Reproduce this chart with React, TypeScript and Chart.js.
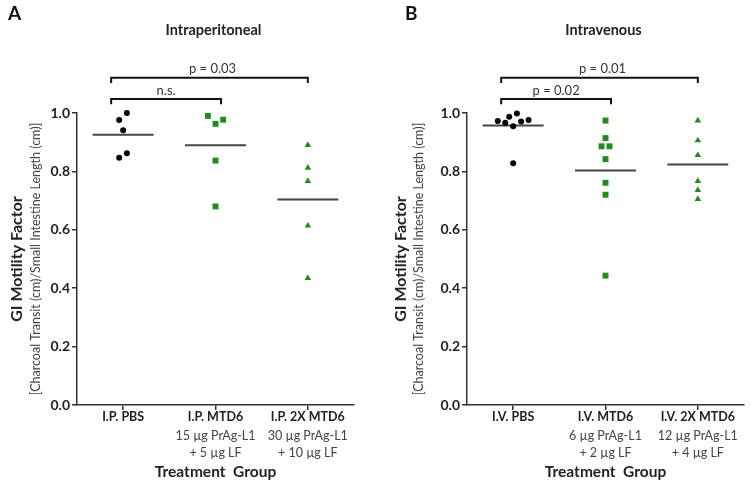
import React, { useEffect, useRef } from 'react';
import Chart from 'chart.js/auto';

const FONT = 'Lato, "Open Sans", sans-serif';

// ---- Data ----
const categoriesA = ['I.P. PBS', 'I.P. MTD6', 'I.P. 2X MTD6'];
const doseLinesA = [[], ['15 µg PrAg-L1', '+ 5 µg LF'], ['30 µg PrAg-L1', '+ 10 µg LF']];
const categoriesB = ['I.V. PBS', 'I.V. MTD6', 'I.V. 2X MTD6'];
const doseLinesB = [[], ['6 µg PrAg-L1', '+ 2 µg LF'], ['12 µg PrAg-L1', '+ 4 µg LF']];

// Intraperitoneal
const ipPBS = [1.0, 0.976, 0.941, 0.862, 0.847];
const ipPBSJitter = [0.04, -0.043, 0, 0.04, -0.043];
const ipMTD6 = [0.99, 0.977, 0.963, 0.837, 0.68];
const ipMTD6Jitter = [-0.083, 0.083, 0, 0, 0];
const ip2xMTD6 = [0.89, 0.812, 0.767, 0.614, 0.435];
const ip2xMTD6Jitter = [0, 0, 0, 0, 0];

// Intravenous
const ivPBS = [0.998, 0.987, 0.976, 0.973, 0.971, 0.967, 0.955, 0.828];
const ivPBSJitter = [0.04, -0.043, 0.167, -0.166, 0.086, -0.086, 0, 0];
const ivMTD6 = [0.974, 0.914, 0.886, 0.886, 0.842, 0.761, 0.72, 0.443];
const ivMTD6Jitter = [0, 0, -0.043, 0.043, 0, 0, 0, 0];
const iv2xMTD6 = [0.974, 0.906, 0.856, 0.767, 0.736, 0.705];
const iv2xMTD6Jitter = [0, 0, 0, 0, 0, 0];

const yTicks = [0, 0.2, 0.4, 0.6, 0.8, 1.0];

const bracketsA = [
  { from: 0, to: 1, label: 'n.s.' },
  { from: 0, to: 2, label: 'p = 0.03' },
];
const bracketsB = [
  { from: 0, to: 1, label: 'p = 0.02' },
  { from: 0, to: 2, label: 'p = 0.01' },
];

const BLACK = '#000000';
const GREEN = '#1e8c1e';

type Group = { values: number[]; jitter: number[]; style: string; color: string; radius: number };
type Bracket = { from: number; to: number; label: string };

type PanelProps = {
  left: number;
  width: number;
  letter: string;
  letterX: number;
  title: string;
  categories: string[];
  doseLines: string[][];
  groups: Group[];
  brackets: Bracket[];
  yTitleX: number;
  ySubTitleX: number;
};

function Panel(props: PanelProps) {
  const ref = useRef<HTMLCanvasElement>(null);
  useEffect(() => {
    const p = props;
    const datasets: any[] = [];
    p.groups.forEach((g, i) => {
      const mean = g.values.reduce((a, b) => a + b, 0) / g.values.length;
      datasets.push({
        type: 'line',
        data: [
          { x: i - 0.33, y: mean },
          { x: i + 0.33, y: mean },
        ],
        borderColor: '#444444',
        borderWidth: 2,
        pointRadius: 0,
        fill: false,
        clip: false,
        order: 2,
      });
      datasets.push({
        type: 'scatter',
        data: g.values.map((v, k) => ({ x: i + g.jitter[k], y: v })),
        pointStyle: g.style,
        pointRadius: g.radius,
        backgroundColor: g.color,
        borderColor: g.color,
        borderWidth: 0,
        clip: false,
        order: 1,
      });
    });

    const annot = {
      id: 'annot',
      afterDraw(chart: any) {
        const { ctx, chartArea } = chart;
        const x = chart.scales.x;
        const y = chart.scales.y;
        ctx.save();
        // Panel letter
        ctx.fillStyle = '#111111';
        ctx.font = `bold 19px ${FONT}`;
        ctx.textAlign = 'left';
        ctx.textBaseline = 'middle';
        ctx.fillText(p.letter, p.letterX, 14);
        // Title
        ctx.font = `bold 14.5px ${FONT}`;
        ctx.textAlign = 'center';
        ctx.fillStyle = '#222222';
        ctx.fillText(p.title, x.getPixelForValue(1) - 2, 30);

        // Y titles
        const cy = (chartArea.top + chartArea.bottom) / 2;
        ctx.save();
        ctx.translate(p.yTitleX, cy);
        ctx.rotate(-Math.PI / 2);
        ctx.font = `bold 16px ${FONT}`;
        ctx.fillStyle = '#222222';
        ctx.textBaseline = 'middle';
        ctx.fillText('GI Motility Factor', 0, 0);
        ctx.restore();
        ctx.save();
        ctx.translate(p.ySubTitleX, cy);
        ctx.rotate(-Math.PI / 2);
        ctx.font = `12.5px ${FONT}`;
        ctx.fillStyle = '#444444';
        ctx.textBaseline = 'middle';
        ctx.fillText('[Charcoal Transit (cm)/Small Intestine Length (cm)]', 0, 0);
        ctx.restore();

        // X category labels
        const base = chartArea.bottom;
        p.categories.forEach((c, i) => {
          const px = x.getPixelForValue(i);
          ctx.font = `bold 12.5px ${FONT}`;
          ctx.fillStyle = '#222222';
          ctx.textBaseline = 'middle';
          ctx.fillText(c, px, base + 12);
          ctx.font = `12.5px ${FONT}`;
          ctx.fillStyle = '#444444';
          p.doseLines[i].forEach((l, k) => {
            ctx.fillText(l, px, base + 30.5 + k * 17.5);
          });
        });
        ctx.font = `bold 15.5px ${FONT}`;
        ctx.fillStyle = '#222222';
        ctx.fillText('Treatment  Group', x.getPixelForValue(1), base + 67);

        // Significance brackets
        ctx.strokeStyle = '#111111';
        ctx.lineWidth = 2;
        p.brackets.forEach((b) => {
          const outer = b.to === 2;
          const level = outer ? 1.121 : 1.048;
          const leg = 0.018;
          const x0 = x.getPixelForValue(b.from - 0.13);
          const x1 = x.getPixelForValue(outer ? b.to : b.to + 0.06);
          const yy = y.getPixelForValue(level);
          const yl = y.getPixelForValue(level - leg);
          ctx.beginPath();
          ctx.moveTo(x0, yl);
          ctx.lineTo(x0, yy);
          ctx.lineTo(x1, yy);
          ctx.lineTo(x1, yl);
          ctx.stroke();
          ctx.font = `13px ${FONT}`;
          ctx.fillStyle = '#333333';
          ctx.textAlign = 'center';
          ctx.textBaseline = 'bottom';
          ctx.fillText(b.label, (x0 + x1) / 2 + (outer ? 3 : 0), yy - 2);
        });
        ctx.restore();
      },
    };

    const gridOpts = {
      drawOnChartArea: false,
      drawTicks: true,
      tickLength: 5,
      color: '#333333',
      lineWidth: 1.5,
    };

    const chart = new Chart(ref.current as HTMLCanvasElement, {
      type: 'scatter',
      data: { datasets },
      options: {
        animation: false,
        responsive: true,
        maintainAspectRatio: false,
        layout: { padding: { top: 113, right: p.width - 354, left: 0, bottom: 0 } },
        plugins: { legend: { display: false }, tooltip: { enabled: false } },
        scales: {
          x: {
            type: 'linear',
            min: -0.5,
            max: 2.5,
            afterBuildTicks: (s: any) => {
              s.ticks = [0, 1, 2].map((v) => ({ value: v }));
            },
            afterFit: (s: any) => {
              s.height = 85;
            },
            ticks: { display: false },
            grid: gridOpts,
            border: { color: '#333333', width: 1.5 },
          },
          y: {
            min: 0,
            max: 1,
            afterBuildTicks: (s: any) => {
              s.ticks = yTicks.map((v) => ({ value: v }));
            },
            afterFit: (s: any) => {
              s.width = 77;
            },
            ticks: {
              callback: (v: any) => Number(v).toFixed(1),
              font: { family: FONT, size: 14, weight: 'bold' },
              color: '#222222',
              padding: 2,
            },
            grid: gridOpts,
            border: { color: '#333333', width: 1.5 },
          },
        },
      } as any,
      plugins: [annot],
    });
    return () => chart.destroy();
  }, []);

  return (
    <div style={{ position: 'absolute', left: props.left, top: 0, width: props.width, height: 490 }}>
      <canvas ref={ref} />
    </div>
  );
}

export default function App() {
  const groupsA: Group[] = [
    { values: ipPBS, jitter: ipPBSJitter, style: 'circle', color: BLACK, radius: 3 },
    { values: ipMTD6, jitter: ipMTD6Jitter, style: 'rect', color: GREEN, radius: 4.2 },
    { values: ip2xMTD6, jitter: ip2xMTD6Jitter, style: 'triangle', color: GREEN, radius: 3.8 },
  ];
  const groupsB: Group[] = [
    { values: ivPBS, jitter: ivPBSJitter, style: 'circle', color: BLACK, radius: 3 },
    { values: ivMTD6, jitter: ivMTD6Jitter, style: 'rect', color: GREEN, radius: 4.2 },
    { values: iv2xMTD6, jitter: iv2xMTD6Jitter, style: 'triangle', color: GREEN, radius: 3.8 },
  ];
  return (
    <div style={{ position: 'absolute', left: 0, top: 0, width: 751, height: 490, background: '#fff' }}>
      <Panel
        left={0}
        width={390}
        letter="A"
        letterX={8}
        title="Intraperitoneal"
        categories={categoriesA}
        doseLines={doseLinesA}
        groups={groupsA}
        brackets={bracketsA}
        yTitleX={17}
        ySubTitleX={36}
      />
      <Panel
        left={390}
        width={361}
        letter="B"
        letterX={15}
        title="Intravenous"
        categories={categoriesB}
        doseLines={doseLinesB}
        groups={groupsB}
        brackets={bracketsB}
        yTitleX={11}
        ySubTitleX={29}
      />
    </div>
  );
}
